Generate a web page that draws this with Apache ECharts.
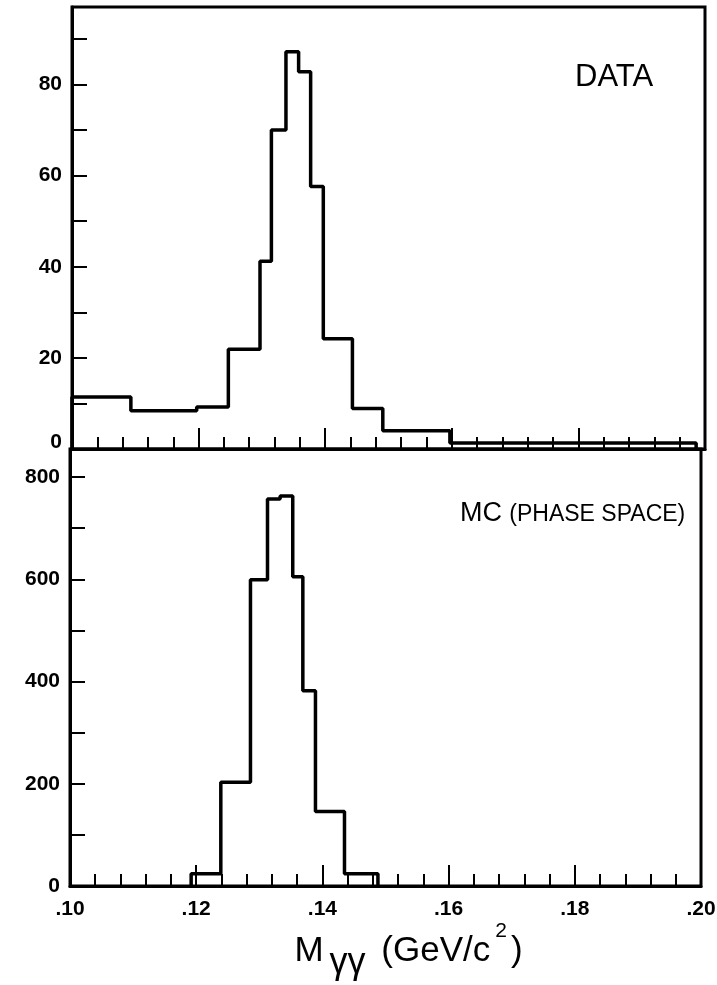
<!DOCTYPE html>
<html>
<head>
<meta charset="utf-8">
<script src="https://cdn.jsdelivr.net/npm/echarts@6/dist/echarts.min.js"></script>
<style>
  html, body { margin: 0; padding: 0; background: #fff; }
  #chart { width: 717px; height: 985px; }
</style>
</head>
<body>
<div id="chart"></div>
<script>
// ---- data ----
// DATA histogram: bin edges (GeV/c^2) and counts per bin
var dataEdges = [0.100, 0.1093, 0.1197, 0.1247, 0.1297, 0.1315, 0.1338, 0.1358, 0.1377, 0.1397, 0.1443, 0.1491, 0.1597, 0.1986];
var dataCounts = [11.4, 8.4, 9.2, 21.9, 41.2, 70.0, 87.2, 82.8, 57.6, 24.2, 8.9, 4.0, 1.3];
// MC (phase space) histogram
var mcEdges = [0.1192, 0.1239, 0.1286, 0.1313, 0.1333, 0.1353, 0.1369, 0.1389, 0.1435, 0.1488];
var mcCounts = [24, 203, 599, 757, 763, 605, 382, 146, 24];
// axes
var xMin = 0.10, xMax = 0.20, xStep = 0.02;
var topYMax = 97, topYStep = 10, topLabelStep = 20;
var botYMax = 855, botYStep = 100, botLabelStep = 200;
var dataLabel = 'DATA';
var mcLabel = 'MC';
var mcSubLabel = '(PHASE SPACE)';

function stepPoints(edges, counts) {
  var pts = [[edges[0], 0]];
  for (var i = 0; i < counts.length; i++) {
    pts.push([edges[i], counts[i]]);
    pts.push([edges[i + 1], counts[i]]);
  }
  pts.push([edges[edges.length - 1], 0]);
  return pts;
}

var FONT = '"Liberation Sans", Arial, sans-serif';

function xAxisCfg(gridIndex, showLabels) {
  return {
    type: 'value', gridIndex: gridIndex, min: xMin, max: xMax, interval: xStep,
    axisLine: { show: true, lineStyle: { color: '#000', width: 3 } },
    axisTick: { show: true, inside: true, length: 21, lineStyle: { color: '#000', width: 2 } },
    minorTick: { show: true, splitNumber: 5, length: 12, lineStyle: { color: '#000', width: 2 } },
    splitLine: { show: false },
    minorSplitLine: { show: false },
    axisLabel: {
      show: showLabels, margin: 13, color: '#000', fontSize: 21, fontWeight: 'bold', fontFamily: FONT,
      formatter: function (v) { return v.toFixed(2).replace(/^0/, ''); }
    },
    name: showLabels ? '{m|M}{g|γγ}{p| (GeV/c}{s|2}{p|)}' : '',
    nameLocation: 'middle',
    nameGap: 30,
    nameTextStyle: {
      padding: [0, 0, 0, 46],
      rich: {
        m: { fontSize: 35, fontFamily: FONT, color: '#000', lineHeight: 35, verticalAlign: 'middle', padding: [0, 6, 0, 0] },
        g: { fontSize: 36, fontFamily: FONT, color: '#000', lineHeight: 60, verticalAlign: 'bottom', padding: [0, 6, 0, 0] },
        p: { fontSize: 35, fontFamily: FONT, color: '#000', lineHeight: 35, verticalAlign: 'middle' },
        s: { fontSize: 21, fontFamily: FONT, color: '#000', lineHeight: 60, verticalAlign: 'top', padding: [0, 4, 0, 5] }
      }
    }
  };
}

function yAxisCfg(gridIndex, max, step, labelStep, liftZero) {
  return {
    type: 'value', gridIndex: gridIndex, min: 0, max: max, interval: step,
    axisLine: { show: true, lineStyle: { color: '#000', width: 3 } },
    axisTick: { show: true, inside: true, length: 15, lineStyle: { color: '#000', width: 2 } },
    splitLine: { show: false },
    axisLabel: {
      margin: 10, color: '#000', fontSize: 21, fontWeight: 'bold', fontFamily: FONT,
      rich: { z: { fontSize: 21, fontWeight: 'bold', fontFamily: FONT, color: '#000', padding: [0, 0, 14, 0] } },
      formatter: function (v) {
        var r = Math.round(v);
        if (r % labelStep !== 0) return '';
        if (r === 0 && liftZero) return '{z|0}';
        return String(r);
      }
    }
  };
}

var chart = echarts.init(document.getElementById('chart'), null, { renderer: 'canvas' });
chart.setOption({
  animation: false,
  backgroundColor: '#fff',
  grid: [
    { left: 72, top: 7, width: 633, height: 442, show: true, borderColor: '#000', borderWidth: 3, containLabel: false, outerBoundsMode: 'none' },
    { left: 70, top: 449, width: 631, height: 437, show: true, borderColor: '#000', borderWidth: 3, containLabel: false, outerBoundsMode: 'none' }
  ],
  xAxis: [xAxisCfg(0, false), xAxisCfg(1, true)],
  yAxis: [yAxisCfg(0, topYMax, topYStep, topLabelStep, true), yAxisCfg(1, botYMax, botYStep, botLabelStep, false)],
  series: [
    {
      type: 'line', xAxisIndex: 0, yAxisIndex: 0, data: stepPoints(dataEdges, dataCounts),
      showSymbol: false, symbol: 'none', lineStyle: { color: '#000', width: 3.5 }, clip: false
    },
    {
      type: 'line', xAxisIndex: 1, yAxisIndex: 1, data: stepPoints(mcEdges, mcCounts),
      showSymbol: false, symbol: 'none', lineStyle: { color: '#000', width: 3.5 }, clip: false
    }
  ],
  graphic: [
    {
      type: 'text', left: 575, top: 62,
      style: { text: dataLabel, fontSize: 31, fontFamily: FONT, fill: '#000' }
    },
    {
      type: 'text', left: 460, top: 500,
      style: {
        text: '{a|' + mcLabel + '} {b|' + mcSubLabel + '}',
        rich: {
          a: { fontSize: 27, fontFamily: FONT, fill: '#000', verticalAlign: 'bottom' },
          b: { fontSize: 23, fontFamily: FONT, fill: '#000', verticalAlign: 'bottom', padding: [0, 0, 1, 4] }
        }
      }
    }
  ]
});
</script>
</body>
</html>
